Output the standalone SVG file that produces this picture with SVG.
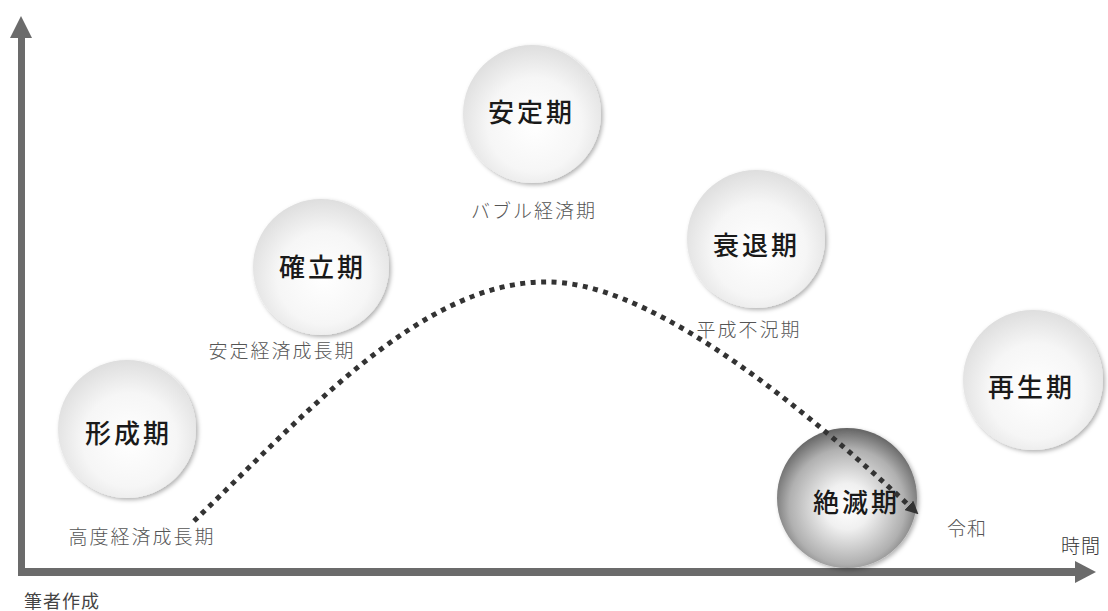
<svg xmlns="http://www.w3.org/2000/svg" width="1108" height="611" viewBox="0 0 1108 611">
<defs>
<radialGradient id="lg" cx="0.52" cy="0.58" r="0.62">
<stop offset="0" stop-color="#ffffff"/>
<stop offset="0.55" stop-color="#f6f6f6"/>
<stop offset="1" stop-color="#dadada"/>
</radialGradient>
<radialGradient id="dg" cx="0.5" cy="0.56" r="0.55">
<stop offset="0" stop-color="#ffffff"/>
<stop offset="0.3" stop-color="#f0f0f0"/>
<stop offset="0.75" stop-color="#b0b0b0"/>
<stop offset="1" stop-color="#686868"/>
</radialGradient>
<filter id="sh" x="-20%" y="-20%" width="145%" height="145%">
<feDropShadow dx="2" dy="2" stdDeviation="2" flood-color="#000" flood-opacity="0.3"/>
</filter>
<marker id="ah" markerWidth="13" markerHeight="13" refX="6" refY="4" orient="auto" markerUnits="userSpaceOnUse" viewBox="0 0 8 8">
<path d="M0,0 L8,4 L0,8 Z" fill="#333"/>
</marker>
</defs>
<style>
.c{fill:url(#lg);filter:url(#sh)}
.cd{fill:url(#dg);filter:url(#sh)}
.t{font-family:"Noto Sans CJK JP","Noto Sans CJK SC",sans-serif;font-size:26px;font-weight:500;fill:#1a1a1a;text-anchor:middle;dominant-baseline:central;letter-spacing:3px}
.s{font-family:"Noto Sans CJK JP","Noto Sans CJK SC",sans-serif;font-size:19px;font-weight:300;fill:#555;text-anchor:middle;letter-spacing:2px}
.ax{fill:#6b6b6b}
</style>
<g id="axes">
<rect class="ax" x="18" y="36" width="7" height="540"/>
<path class="ax" d="M21,16 L32,38 L10,38 Z"/>
<rect class="ax" x="18" y="568" width="1060" height="8"/>
<path class="ax" d="M1096,572 L1075,561 L1075,583 Z"/>
</g>
<g id="node-keisei">
<circle class="c" cx="127" cy="429" r="69"/>
<text class="t" x="128.5" y="431">形成期</text>
<text class="s" x="142" y="544">高度経済成長期</text>
</g>
<g id="node-kakuritsu">
<circle class="c" cx="321" cy="267" r="68"/>
<text class="t" x="322.5" y="265">確立期</text>
<text class="s" x="282" y="358">安定経済成長期</text>
</g>
<g id="node-antei">
<circle class="c" cx="532" cy="114" r="69"/>
<text class="t" x="531.5" y="110">安定期</text>
<text class="s" x="534" y="218">バブル経済期</text>
</g>
<g id="node-suitai">
<circle class="c" cx="756" cy="239" r="69"/>
<text class="t" x="756.5" y="243">衰退期</text>
<text class="s" x="749" y="337">平成不況期</text>
</g>
<g id="node-saisei">
<circle class="c" cx="1033" cy="380" r="70"/>
<text class="t" x="1031.5" y="385">再生期</text>
</g>
<g id="node-zetsumetsu">
<circle class="cd" cx="847" cy="498" r="70"/>
<text class="t" x="856.5" y="500">絶滅期</text>
</g>
<g id="connectors">
<path d="M194,521 C300,420 420,282 545,282 C640,280 780,385 916,512" fill="none" stroke="#333" stroke-width="5" stroke-dasharray="5 5.5" marker-end="url(#ah)"/>
</g>
<g id="labels">
<text class="s" x="967" y="536" style="letter-spacing:1px">令和</text>
<text class="s" x="1081" y="553" style="letter-spacing:1px;fill:#333">時間</text>
<text class="s" x="62" y="608" style="font-size:18px;letter-spacing:1px;fill:#444;font-weight:400">筆者作成</text>
</g>
</svg>
